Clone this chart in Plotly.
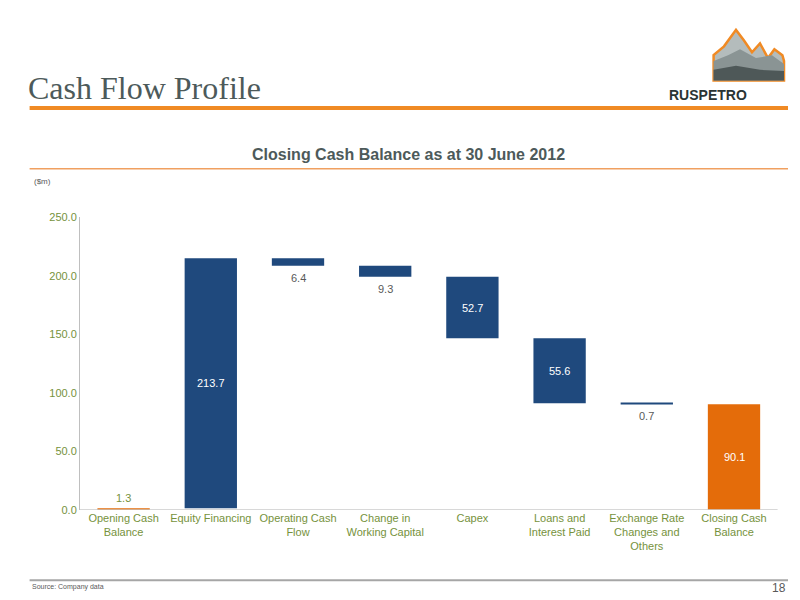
import plotly.graph_objects as go

categories = ["Opening Cash<br>Balance", "Equity Financing", "Operating Cash<br>Flow",
              "Change in<br>Working Capital", "Capex", "Loans and<br>Interest Paid",
              "Exchange Rate<br>Changes and<br>Others", "Closing Cash<br>Balance"]
values = [1.3, 213.7, -6.4, -9.3, -52.7, -55.6, -0.7, 90.1]
measures = ["absolute", "relative", "relative", "relative", "relative", "relative", "relative", "absolute"]
labels = ["1.3", "213.7", "6.4", "9.3", "52.7", "55.6", "0.7", "90.1"]

BLUE = "#1f497d"
ORANGE = "#e46c0a"
OLIVE = "#76923c"
GREY = "#595959"

fig = go.Figure(go.Waterfall(
    x=categories, y=values, measure=measures,
    increasing=dict(marker=dict(color=BLUE)),
    decreasing=dict(marker=dict(color=BLUE)),
    totals=dict(marker=dict(color=ORANGE)),
    connector=dict(visible=False),
    width=0.6, textposition="none", hoverinfo="x+y",
))

# value labels from running totals
run = 0
for cat, v, m, lab in zip(categories, values, measures, labels):
    lo_prev = run
    run = v if m == "absolute" else run + v
    lo, hi = sorted([lo_prev if m == "relative" else 0, run])
    size = hi - lo
    if size > 20:
        fig.add_annotation(x=cat, y=(lo + hi) / 2, text=lab, showarrow=False,
                           font=dict(color="white", size=11))
    elif m == "absolute":
        fig.add_annotation(x=cat, y=hi, yanchor="bottom", yshift=2, text=lab, showarrow=False,
                           font=dict(color=OLIVE, size=11))
    else:
        fig.add_annotation(x=cat, y=lo, yanchor="top", yshift=-4, text=lab, showarrow=False,
                           font=dict(color=GREY, size=11))

fig.update_layout(
    width=800, height=600, margin=dict(l=0, r=0, t=0, b=0),
    paper_bgcolor="white", plot_bgcolor="white", showlegend=False,
    font=dict(family="Liberation Sans, Arial", size=11, color=OLIVE),
    xaxis=dict(domain=[0.09, 0.962], showline=False, ticks="", tickfont=dict(color=OLIVE, size=11)),
    yaxis=dict(domain=[0.157, 0.654], range=[0, 250], dtick=50, tickformat=".1f",
               showgrid=False, zeroline=False, showline=True, linecolor="#bfbfbf",
               tickfont=dict(color=OLIVE, size=11), ticks=""),
)

# baseline
fig.add_shape(type="line", xref="paper", yref="y", x0=0.09, x1=0.962, y0=0, y1=0,
              line=dict(color="#bfbfbf", width=1))

# header
fig.add_annotation(xref="paper", yref="paper", x=0.022, y=0.874, xanchor="left", yanchor="middle",
                   text="Cash Flow Profile", showarrow=False,
                   font=dict(family="Liberation Serif, serif", size=32, color="#4d5a5a"))
fig.add_shape(type="line", xref="paper", yref="paper", x0=0.027, x1=0.975, y0=0.84, y1=0.84,
              line=dict(color="#f08a24", width=4))
fig.add_annotation(xref="paper", yref="paper", x=0.5, y=0.779, text="<b>Closing Cash Balance as at 30 June 2012</b>",
                   showarrow=False, font=dict(size=16, color="#4d5a5a"))
fig.add_shape(type="line", xref="paper", yref="paper", x0=0.027, x1=0.975, y0=0.737, y1=0.737,
              line=dict(color="#f0a060", width=1.5))
fig.add_annotation(xref="paper", yref="paper", x=0.03, y=0.727, xanchor="left", text="($m)",
                   showarrow=False, font=dict(size=8, color=GREY))

# logo (simplified layered mountain)
fig.add_shape(type="path", xref="paper", yref="paper",
              path="M 0.882 0.887 L 0.882 0.93 L 0.895 0.945 L 0.91 0.973 L 0.92 0.955 L 0.93 0.935 "
                   "L 0.94 0.95 L 0.95 0.925 L 0.958 0.94 L 0.968 0.93 L 0.97 0.92 L 0.97 0.887 Z",
              fillcolor="#b4bcbc", line=dict(color="#f08a24", width=2.5))
fig.add_shape(type="path", xref="paper", yref="paper",
              path="M 0.882 0.887 L 0.882 0.92 L 0.9 0.93 L 0.915 0.94 L 0.935 0.925 L 0.955 0.93 "
                   "L 0.97 0.915 L 0.97 0.887 Z", fillcolor="#8a9494", line=dict(width=0))
fig.add_shape(type="path", xref="paper", yref="paper",
              path="M 0.882 0.887 L 0.882 0.905 L 0.91 0.912 L 0.94 0.905 L 0.97 0.903 L 0.97 0.887 Z",
              fillcolor="#4e5858", line=dict(width=0))
fig.add_annotation(xref="paper", yref="paper", x=0.926, y=0.879, text="<b>RUSPETRO</b>", showarrow=False,
                   font=dict(family="Liberation Sans Narrow, Liberation Sans", size=14, color="#2a3434"))

# footer
fig.add_shape(type="line", xref="paper", yref="paper", x0=0.027, x1=0.975, y0=0.037, y1=0.037,
              line=dict(color="#a6a6a6", width=2))
fig.add_annotation(xref="paper", yref="paper", x=0.027, y=0.015, xanchor="left", text="Source: Company data",
                   showarrow=False, font=dict(size=7, color=GREY))
fig.add_annotation(xref="paper", yref="paper", x=0.975, y=0.008, xanchor="right", text="18",
                   showarrow=False, font=dict(size=12, color=GREY))

fig.write_html("out.html")
